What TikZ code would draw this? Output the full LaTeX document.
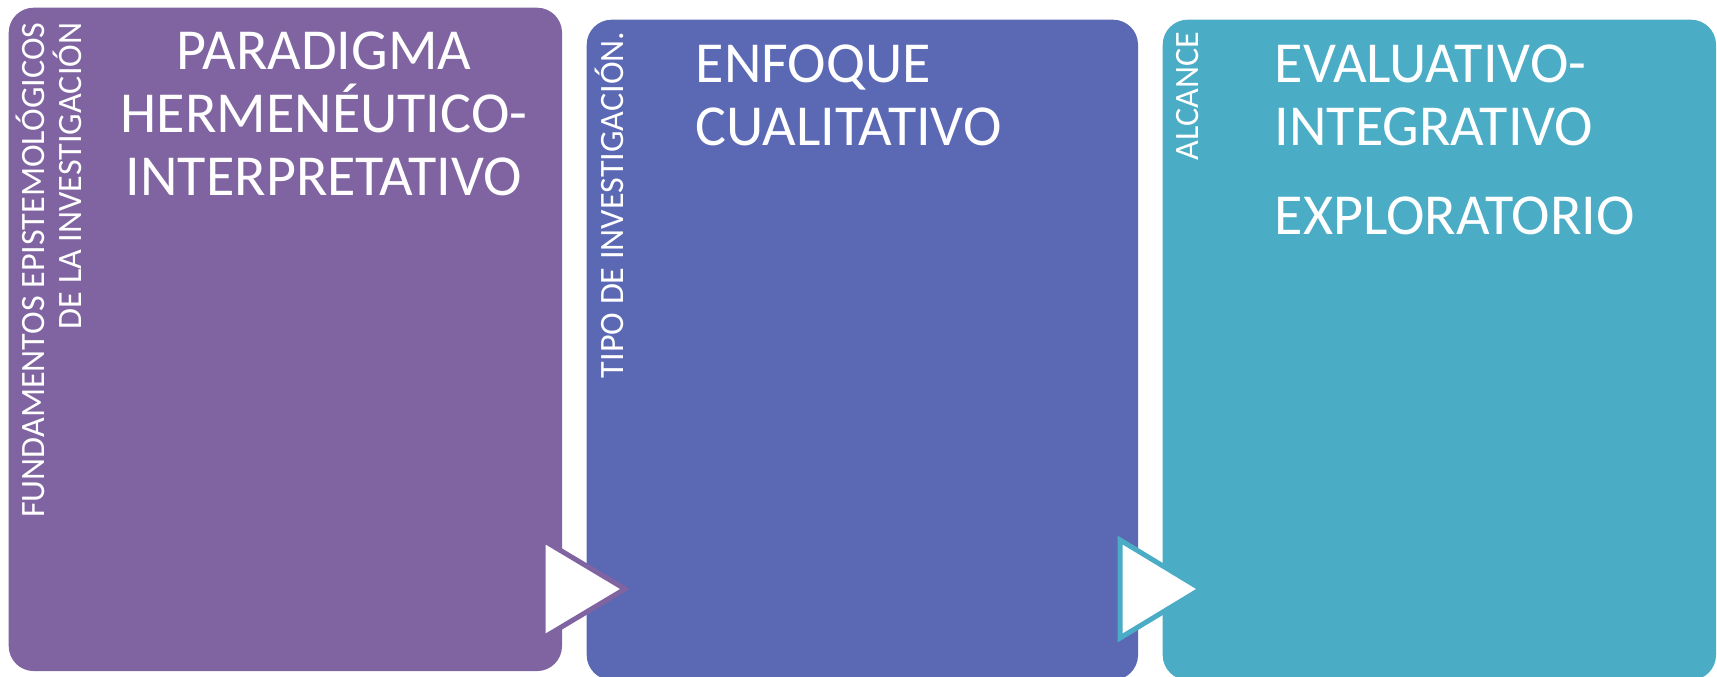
\documentclass[tikz,border=0pt]{standalone}
\usepackage{fontspec}
\setmainfont{Carlito}

\definecolor{fundpurple}{HTML}{8064A2}
\definecolor{tipoblue}{HTML}{5B69B5}
\definecolor{alcancecyan}{HTML}{4BACC6}

\tikzset{
  stage/.style={rounded corners=0.25cm, inner sep=0pt, anchor=north west},
  sidelabel/.style={rotate=90, anchor=north east, inner sep=0pt, text=white,
    font=\fontsize{9.7}{10.6}\selectfont, align=right},
  bigtext/.style={inner sep=0pt, text=white, font=\fontsize{16.5}{18}\selectfont},
  flowarrow/.style={fill=white, line width=0.05cm, line join=miter}
}

\begin{document}
\begin{tikzpicture}[x=0.01cm, y=-0.01cm]
    \useasboundingbox (0,0) rectangle (1717,677);

    % stages
    \node[stage, fill=fundpurple, minimum width=5.53cm, minimum height=6.63cm] (fund) at (8,7) {};
    \node[stage, fill=tipoblue, minimum width=5.51cm, minimum height=6.60cm] (tipo) at (586,19) {};
    \node[stage, fill=alcancecyan, minimum width=5.53cm, minimum height=6.60cm] (alcance) at (1162,19) {};

    % arrows between stages
    \draw[flowarrow, draw=fundpurple] (543,540) -- (625,589) -- (543,638) -- cycle;
    \draw[flowarrow, draw=alcancecyan] (1120,540) -- (1201,589) -- (1120,638) -- cycle;

    % side labels
    \node[sidelabel] (fundlabel) at (15,22) {FUNDAMENTOS EPISTEMOLÓGICOS\\DE LA INVESTIGACIÓN};
    \node[sidelabel] (tipolabel) at (594,31) {TIPO DE INVESTIGACIÓN.};
    \node[sidelabel] (alcancelabel) at (1176,31) {ALCANCE};

    % contents
    \node[bigtext, anchor=north, align=center] (paradigma) at (324,31)
        {PARADIGMA\\HERMENÉUTICO-\\INTERPRETATIVO};
    \node[bigtext, anchor=north west, align=left] (enfoque) at (695,44)
        {ENFOQUE\\CUALITATIVO};
    \node[bigtext, anchor=north west, align=left] (evaluativo) at (1274,44)
        {EVALUATIVO-\\INTEGRATIVO\\[7.4pt]EXPLORATORIO};
\end{tikzpicture}
\end{document}
